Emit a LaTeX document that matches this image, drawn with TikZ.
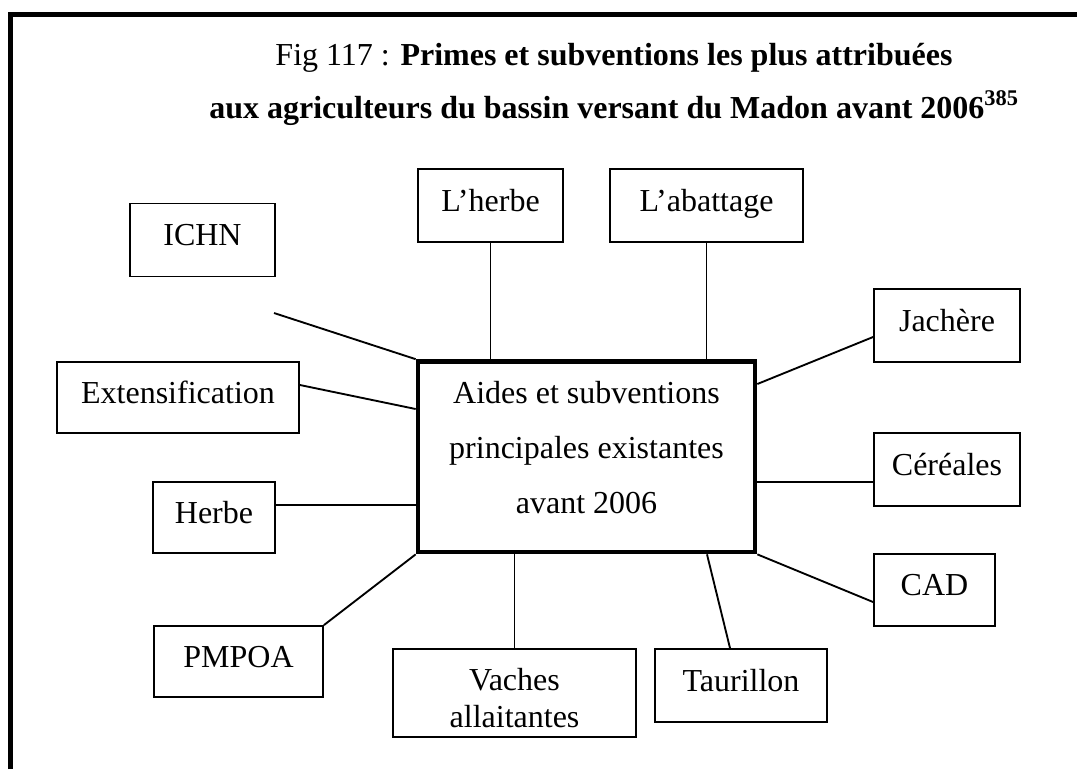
\documentclass[tikz,border=0pt]{standalone}
\usepackage{fontspec}
\setmainfont{Liberation Serif}
\usepackage{tikz}
\tikzset{
  md-box/.style={
    draw=black, line width=1.4pt, fill=white,
    font=\fontsize{24}{29}\selectfont, align=center,
    inner sep=0pt, minimum width=108.75pt, minimum height=54.75pt
  },
  md-one/.style={md-box, text height=16.8pt, text depth=8.4pt},
  md-main/.style={md-box, line width=3.5pt,
    font=\fontsize{24}{41.25}\selectfont,
    minimum width=252.75pt, minimum height=142.9pt},
  md-link/.style={line width=1.4pt, draw=black},
  md-frame/.style={line width=4.2pt, draw=black},
  md-title/.style={font=\fontsize{24}{29}\selectfont, anchor=base}
}
\begin{document}
\begin{tikzpicture}[x=0.75pt, y=-0.75pt]
\useasboundingbox (0,0) rectangle (1077,769);

% Cadre
\draw[md-frame] (10.3,769) -- (10.3,14.5) -- (1077,14.5);

% Titre
\node[md-title] (title1) at (614,65)
  {Fig 117 : \textbf{Primes et subventions les plus attribu\'ees}};
\node[md-title] (title2) at (614,118)
  {\textbf{aux agriculteurs du bassin versant du Madon avant 2006\textsuperscript{385}}};

% Centre
\node[md-main, text depth=13.5pt] (aides) at (586.5,456.75)
  {Aides et subventions\\ principales existantes\\ avant 2006};

% Aides
\node[md-one] (ichn) at (202.5,240) {ICHN};
\node[md-one] (lherbe) at (490.5,205.5) {L'herbe};
\node[md-one, minimum width=144.75pt] (abat) at (706.5,205.5) {L'abattage};
\node[md-one, minimum width=109.5pt] (jach) at (947,325.5) {Jach\`ere};
\node[md-one, minimum width=109.5pt] (cer) at (947,469.5) {C\'er\'eales};
\node[md-one, minimum width=90.75pt, minimum height=54pt] (cad) at (934.5,590) {CAD};
\node[md-one, minimum width=129pt] (taur) at (741,685.5) {Taurillon};
\node[md-box, minimum width=182.25pt, minimum height=66pt,
  font=\fontsize{24}{27.75}\selectfont, text height=52pt, text depth=0pt]
  (vach) at (514.5,693) {Vaches\\ allaitantes};
\node[md-one, minimum width=126.75pt, minimum height=53.25pt] (pmpoa) at (238.5,661.5) {PMPOA};
\node[md-one, minimum width=91.5pt, minimum height=53.25pt] (herbe) at (214,517.5) {Herbe};
\node[md-one, minimum width=181.5pt, minimum height=53.25pt] (ext) at (178,397.5) {Extensification};

% Liens
\coordinate (ichnEnd) at (274,313);
\draw[md-link] (ichnEnd) -- (aides.north west);
\draw[md-link] (ext.east |- 0,385) -- (aides.west |- 0,409);
\draw[md-link] (herbe.east |- 0,505) -- (aides.west |- 0,505);
\draw[md-link] (pmpoa.north east) -- (aides.south west);
\draw[md-link] (vach.north) -- (vach.north |- aides.south);
\draw[md-link] (aides.south -| 707,0) -- (taur.north -| 730,0);
\draw[md-link] (aides.south east) -- (cad.west |- 0,602);
\draw[md-link] (aides.east |- 0,482) -- (cer.west |- 0,482);
\draw[md-link] (aides.east |- 0,384) -- (jach.west |- 0,337);
\draw[md-link] (abat.south) -- (abat.south |- aides.north);
\draw[md-link] (lherbe.south) -- (lherbe.south |- aides.north);
\end{tikzpicture}
\end{document}
